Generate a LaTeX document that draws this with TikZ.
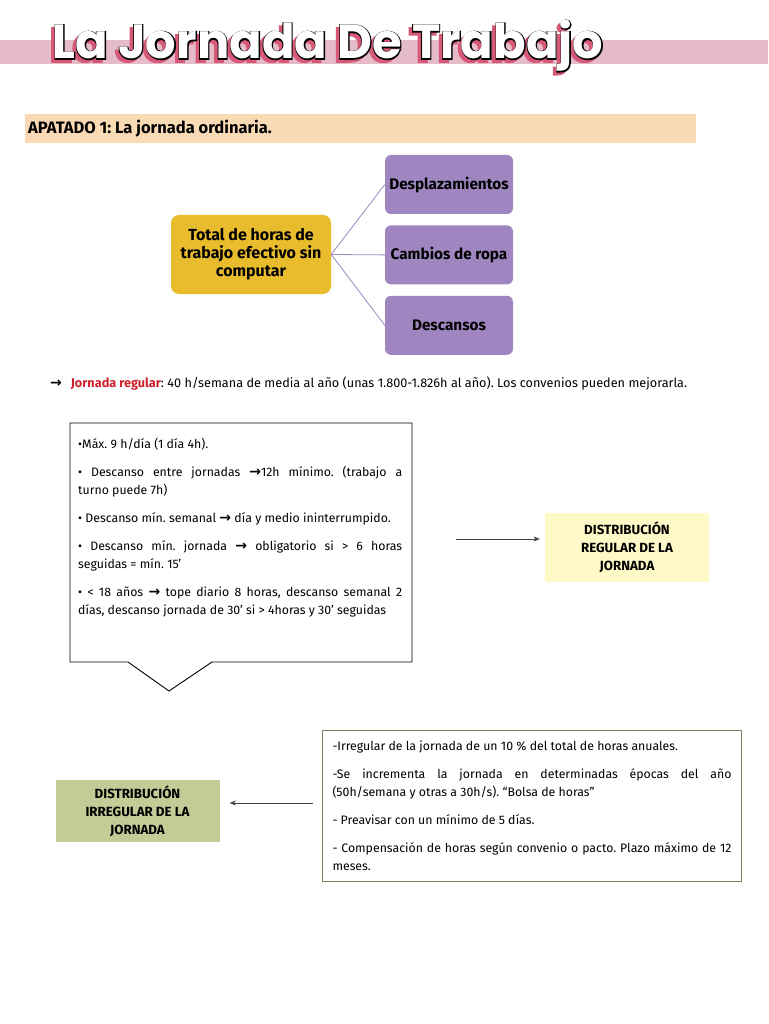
\documentclass[tikz,border=0pt]{standalone}
\usepackage{fontspec}
\setmainfont{Fira Sans}
\newfontfamily\titlefont{Poppins}
\newfontfamily\titleline{Poppins}[FakeBold=4]
\newfontfamily\symfont{DejaVu Sans}
\usetikzlibrary{arrows.meta, positioning, calc}
\definecolor{cPink}{RGB}{230,187,201}
\definecolor{cPeach}{RGB}{250,217,181}
\definecolor{cMustard}{RGB}{232,188,44}
\definecolor{cLila}{RGB}{159,134,192}
\definecolor{cRed}{RGB}{208,32,42}
\definecolor{cCream}{RGB}{255,249,200}
\definecolor{cSage}{RGB}{193,204,150}
\definecolor{cOlive}{RGB}{122,128,96}
\definecolor{cShadow}{RGB}{214,90,120}
\newcommand{\flecha}{{\symfont\bfseries\fontsize{14}{14}\selectfont →}}
\newcommand{\titulo}{La Jornada De Trabajo}
\tikzset{
	total/.style   ={rectangle, rounded corners=8pt, minimum width=160pt, minimum height=79pt, align=center, fill=cMustard, font=\fontsize{16}{18}\selectfont\bfseries},
	parte/.style   ={rectangle, rounded corners=6pt, minimum width=128pt, minimum height=59pt, align=center, fill=cLila, inner sep=1pt, font=\fontsize{15.3}{18}\selectfont\bfseries},
	rama/.style    ={draw=cLila, line width=0.8pt},
	dist/.style    ={rectangle, minimum width=164pt, minimum height=69pt, align=center, font=\fontsize{13.3}{18}\selectfont\bfseries},
	texto/.style   ={inner sep=0pt, align=justify, font=\fontsize{12.3}{18}\selectfont, execute at begin node={\setlength{\parindent}{0pt}\setlength{\parskip}{10pt}}},
	sig/.style     ={-{Stealth[length=2.2mm, width=1.8mm]}, line width=0.6pt, draw=black!75},
}
\begin{document}
\frenchspacing
\begin{tikzpicture}[x=1pt, y=-1pt]
	\useasboundingbox (0,0) rectangle (768,1024);
	\fill[white] (0,0) rectangle (768,1024);
	% title
	\fill[cPink] (0,40) rectangle (768,64);
	\coordinate (tit) at (328,46);
	\node[text=cShadow, font=\titleline\fontsize{48}{48}\selectfont\bfseries] at ($(tit)+(-3.5,3)$) {\titulo};
	\node[text=black, font=\titleline\fontsize{48}{48}\selectfont\bfseries] at (tit) {\titulo};
	\node[text=white, font=\titlefont\fontsize{48}{48}\selectfont\bfseries] (title) at (tit) {\titulo};
	% apartado
	\fill[cPeach] (25,114) rectangle (696,143);
	\node[anchor=west, inner sep=0pt, font=\fontsize{16.5}{18}\selectfont\bfseries] (apart) at (28,128.5) {APATADO 1: La jornada ordinaria.};
	% horas
	\node[total] (tot) at (251,254.5) {Total de horas de\\ trabajo efectivo sin\\ computar};
	\node[parte] (desp) at (449,184.5) {Desplazamientos};
	\node[parte, below=11pt of desp] (ropa) {Cambios de ropa};
	\node[parte, below=11pt of ropa] (desc) {Descansos};
	\foreach \p in {desp, ropa, desc} \draw[rama] (tot.east) -- (\p.west);
	% jornada regular
	\node[anchor=west, inner sep=0pt, font=\fontsize{12.7}{14}\selectfont] (regular) at (50,384)
		{\flecha\hspace{9pt}\textcolor{cRed}{\bfseries Jornada regular}: 40 h/semana de media al año (unas 1.800-1.826h al año). Los convenios pueden mejorarla.};
	\draw[line width=0.9pt] (70,423) -- (412,423) -- (412,662) -- (212,662) -- (169,691) -- (128,662) -- (70,662) -- cycle;
	\node[texto, text width=324pt, anchor=north west] (regtxt) at (78,438) {%
		•Máx. 9 h/día (1 día 4h).\par
		• Descanso entre jornadas \flecha12h mínimo. (trabajo a\linebreak turno puede 7h)\par
		• Descanso mín. semanal \flecha{} día y medio ininterrumpido.\par
		• Descanso mín. jornada \flecha{} obligatorio si > 6 horas\linebreak seguidas = mín. 15’\par
		• < 18 años \flecha{} tope diario 8 horas, descanso semanal 2\linebreak días, descanso jornada de 30’ si > 4horas y 30’ seguidas};
	\node[dist, fill=cCream] (regdist) at (627,547.5) {DISTRIBUCIÓN\\ REGULAR DE LA\\ JORNADA};
	\coordinate (regfrom) at (456,539);
	\draw[sig, shorten >=5pt] (regfrom) -- (regfrom -| regdist.west);
	% distribucion irregular
	\node[texto, draw=cOlive, line width=1pt, inner sep=10pt, text width=399pt, minimum height=151pt, anchor=north west] (irrtxt) at (322,730) {%
		-Irregular de la jornada de un 10 \% del total de horas anuales.\par
		-Se incrementa la jornada en determinadas épocas del año\linebreak (50h/semana y otras a 30h/s). “Bolsa de horas”\par
		- Preavisar con un mínimo de 5 días.\par
		- Compensación de horas según convenio o pacto. Plazo máximo de 12\linebreak meses.};
	\node[dist, fill=cSage, minimum height=62pt] (irrdist) at (137.5,811) {DISTRIBUCIÓN\\ IRREGULAR DE LA\\ JORNADA};
	\coordinate (irrfrom) at (313,803);
	\draw[sig, shorten >=10pt] (irrfrom) -- (irrfrom -| irrdist.east);
\end{tikzpicture}
\end{document}
